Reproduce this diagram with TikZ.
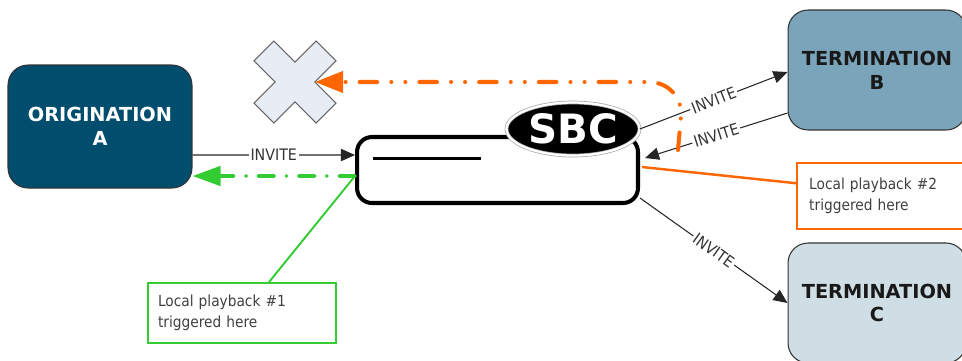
\documentclass[tikz,border=0pt]{standalone}
\usepackage{fontspec}
\usepackage{tikz}
\usetikzlibrary{
  arrows.meta,      % Triangle 箭头
  calc,             % 坐标计算
  shapes.geometric, % 椭圆节点
  positioning       % 节点相对定位
}
\newfontfamily\labelfont{DejaVu Sans Condensed}
\newfontfamily\boxfont{DejaVu Sans}
\definecolor{origblue}{RGB}{0,77,110}
\definecolor{termblue}{RGB}{122,164,186}
\definecolor{termlight}{RGB}{207,221,228}
\definecolor{pbgreen}{RGB}{51,204,51}
\definecolor{pborange}{RGB}{255,102,0}
\definecolor{crossfill}{RGB}{232,236,245}
\tikzset{
  endpoint/.style={
    draw=black!80,
    line width=0.6pt,
    rounded corners=0.4cm,
    minimum width=3.62cm,
    minimum height=2.4cm,
    align=center,
    font=\boxfont\bfseries\fontsize{11}{13.5}\selectfont
  },
  sbc box/.style={
    draw=black,
    line width=2.3pt,
    rounded corners=0.3cm,
    fill=white,
    minimum width=5.62cm,
    minimum height=1.32cm
  },
  logo/.style={
    ellipse,
    fill=black,
    draw=gray!70,
    double=white,
    double distance=1.3pt,
    inner sep=0pt,
    minimum width=2.66cm,
    minimum height=1.06cm,
    text=white,
    font=\boxfont\bfseries\fontsize{23}{23}\selectfont
  },
  invite/.style={
    -{Triangle[length=8pt,width=7pt]},
    line width=0.6pt,
    color=black!85
  },
  invite label/.style={
    fill=white,
    inner sep=1pt,
    text=black!80,
    font=\labelfont\fontsize{9}{9}\selectfont
  },
  playback/.style={
    -{Triangle[length=16pt,width=11pt]},
    line width=2.2pt,
    line cap=round,
    color=pbgreen,
    dash pattern=on 9pt off 7pt on 0pt off 7pt
  },
  reject/.style={
    -{Triangle[length=16pt,width=12pt]},
    line width=2.3pt,
    line cap=round,
    color=pborange,
    rounded corners=0.7cm,
    dash pattern=on 10pt off 8pt on 0pt off 8pt on 0pt off 8pt
  },
  callout/.style={
    fill=white,
    line width=1.2pt,
    align=left,
    anchor=north west,
    text=black!75,
    font=\labelfont\fontsize{8.7}{12}\selectfont
  }
}
\begin{document}
\begin{tikzpicture}[x=0.02cm, y=-0.02cm]
  \useasboundingbox (0,0) rectangle (962,360);

  % --- 端点 ---
  \node[endpoint, fill=origblue, text=white, minimum width=3.68cm, minimum height=2.46cm] (orig) at (100,126.5) {ORIGINATION\\A};
  \node[endpoint, fill=termblue, text=black!90, minimum width=3.56cm] (termB) at (877,70) {TERMINATION\\B};
  \node[endpoint, fill=termlight, text=black!90, minimum width=3.56cm] (termC) at (877,303) {TERMINATION\\C};

  % --- SBC ---
  \node[sbc box] (sbc) at (497.5,170) {};
  \draw[line width=1.7pt] ($(sbc.west)+(18,-12)$) -- ($(sbc.west)+(126,-12)$);
  \node[logo] (logo) at (573,129) {SBC};

  % --- 拒绝标记 ---
  \coordinate (nope) at (295,82);
  \begin{scope}[shift={(nope)}, rotate=45]
    \draw[fill=crossfill, draw=black!60, line width=0.6pt]
      (44,14) -- (14,14) -- (14,44) -- (-14,44) -- (-14,14) -- (-44,14) --
      (-44,-14) -- (-14,-14) -- (-14,-44) -- (14,-44) -- (14,-14) -- (44,-14) -- cycle;
  \end{scope}

  % --- INVITE 信令 ---
  \draw[invite] ($(orig.east)+(0,28.5)$) -- node[invite label] {INVITE} ($(sbc.west)+(0,-15)$);
  \draw[invite] (logo.east) -- node[invite label, sloped] {INVITE} ($(termB.west)+(0,2)$);
  \draw[invite] ($(termB.west)+(0,43)$) -- node[invite label, sloped] {INVITE} ($(sbc.east)+(5,-12)$);
  \draw[invite] ($(sbc.east)+(0,28)$) -- node[invite label, sloped] {INVITE} (termC.west);

  % --- 本地放音 ---
  \coordinate (turn) at ($(sbc.east)+(44,-88)$);
  \draw[playback] ($(sbc.west)+(0,6)$) -- ($(orig.east)+(0,49.5)$);
  \draw[reject] ($(sbc.east)+(38,-20)$) -- (turn) -- ($(nope)+(20,0)$);

  % --- 说明框 ---
  \node[callout, draw=pbgreen, minimum width=3.76cm, minimum height=1.2cm,
        inner xsep=0.2cm, text width=3.36cm] (note1) at (147,282) {Local playback \#1\\triggered here};
  \node[callout, draw=pborange, line width=1.4pt, minimum width=3.6cm, minimum height=1.32cm,
        inner xsep=0.24cm, text width=3.12cm] (note2) at (796,162) {Local playback \#2\\triggered here};
  \draw[pbgreen, line width=1.1pt] ($(note1.north)+(27,0)$) -- ($(sbc.west)+(0,6)$);
  \draw[pborange, line width=1.4pt] ($(note2.west)+(0,-13)$) -- ($(sbc.east)+(2,-3)$);
\end{tikzpicture}
\end{document}
